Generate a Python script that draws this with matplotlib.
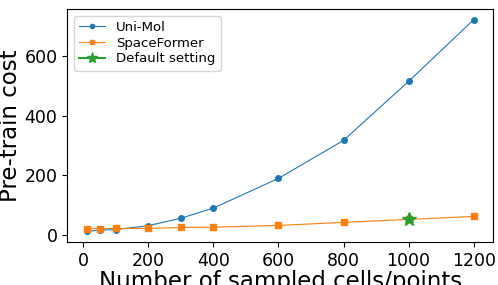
import matplotlib
matplotlib.use('Agg')
import matplotlib.pyplot as plt

points = [10, 50, 100, 200, 300, 400, 600, 800, 1000, 1200]
unimol_cost = [13, 17, 19, 32, 57, 91, 190, 317, 514, 720]
spaceformer_cost = [22, 22, 23, 23, 26, 27, 33, 43, 53, 63]
default_point = [1000]
default_cost = [53]

fig, ax = plt.subplots(figsize=(4.98, 2.85), dpi=100)

ax.plot(points, unimol_cost, marker='o', markersize=4, linewidth=0.8, label='Uni-Mol')
ax.plot(points, spaceformer_cost, marker='s', markersize=4, linewidth=0.8, label='SpaceFormer')
ax.plot(default_point, default_cost, marker='*', markersize=10, linestyle='-', color='tab:green',
        label='Default setting')

ax.set_xticks([0, 200, 400, 600, 800, 1000, 1200])
ax.set_yticks([0, 200, 400, 600])
ax.tick_params(labelsize=12.5)
ax.set_xlabel('Number of sampled cells/points', fontsize=16.5, labelpad=0)
ax.set_ylabel('Pre-train cost', fontsize=16.5, labelpad=2)
leg = ax.legend(fontsize=9.5, loc='upper left', labelspacing=0.2)
leg.legend_handles[0].set_markersize(3)
leg.legend_handles[1].set_markersize(3)
leg.legend_handles[2].set_markersize(8)

plt.subplots_adjust(left=0.135, right=0.99, top=0.968, bottom=0.151)
plt.savefig('out.png')
